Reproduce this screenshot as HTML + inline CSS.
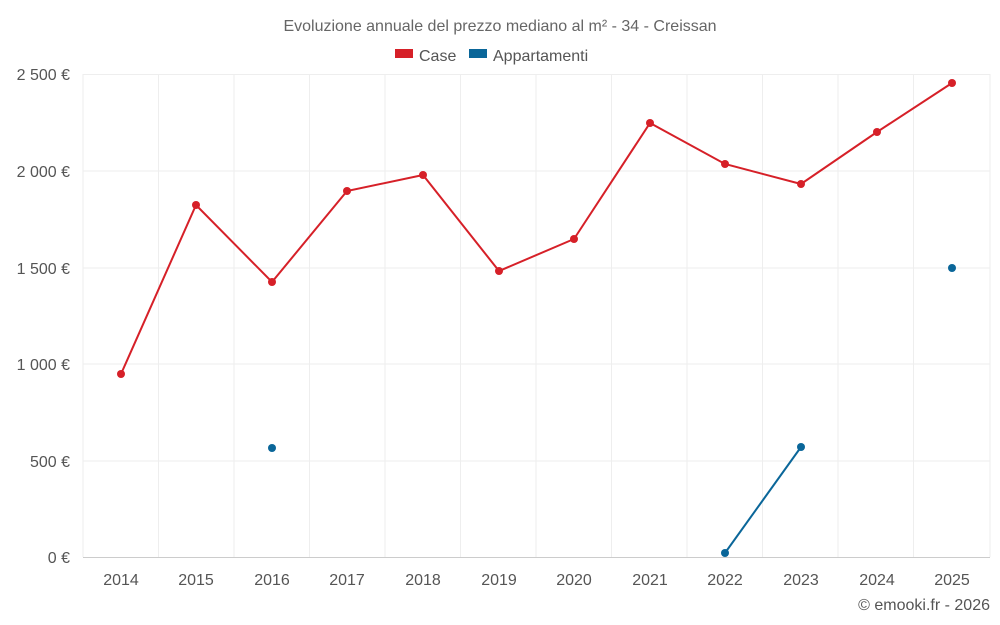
<!DOCTYPE html>
<html><head><meta charset="utf-8"><style>body{margin:0;background:#fff}svg{display:block;font-family:"Liberation Sans",sans-serif}</style></head><body>
<svg width="1000" height="625" xmlns="http://www.w3.org/2000/svg">
<text x="500" y="31" text-anchor="middle" font-size="16" fill="#666">Evoluzione annuale del prezzo mediano al m² - 34 - Creissan</text>
<rect x="395" y="49" width="18" height="9" fill="#d62028"/><text x="419" y="61" font-size="16" fill="#555">Case</text>
<rect x="469" y="49" width="18" height="9" fill="#0a6699"/><text x="493" y="61" font-size="16" fill="#555">Appartamenti</text>
<g stroke="#eee" stroke-width="1">
<line x1="83" y1="74.5" x2="990" y2="74.5"/><line x1="83" y1="171" x2="990" y2="171"/><line x1="83" y1="268" x2="990" y2="268"/><line x1="83" y1="364" x2="990" y2="364"/><line x1="83" y1="461" x2="990" y2="461"/>
<line x1="83" y1="74" x2="83" y2="557"/>
<line x1="158.5" y1="74" x2="158.5" y2="557"/><line x1="234" y1="74" x2="234" y2="557"/><line x1="309.5" y1="74" x2="309.5" y2="557"/><line x1="385" y1="74" x2="385" y2="557"/><line x1="460.5" y1="74" x2="460.5" y2="557"/><line x1="536" y1="74" x2="536" y2="557"/><line x1="611.5" y1="74" x2="611.5" y2="557"/><line x1="687" y1="74" x2="687" y2="557"/><line x1="762.5" y1="74" x2="762.5" y2="557"/><line x1="838" y1="74" x2="838" y2="557"/><line x1="913.5" y1="74" x2="913.5" y2="557"/><line x1="990" y1="74" x2="990" y2="557"/>
</g>
<line x1="83" y1="557.5" x2="990" y2="557.5" stroke="#ccc"/>
<g font-size="16" fill="#555" text-anchor="end">
<text x="70" y="80">2 500 €</text><text x="70" y="177">2 000 €</text><text x="70" y="274">1 500 €</text><text x="70" y="370">1 000 €</text><text x="70" y="467">500 €</text><text x="70" y="563">0 €</text>
</g>
<g font-size="16" fill="#555" text-anchor="middle">
<text x="121" y="585">2014</text><text x="196" y="585">2015</text><text x="272" y="585">2016</text><text x="347" y="585">2017</text><text x="423" y="585">2018</text><text x="499" y="585">2019</text><text x="574" y="585">2020</text><text x="650" y="585">2021</text><text x="725" y="585">2022</text><text x="801" y="585">2023</text><text x="877" y="585">2024</text><text x="952" y="585">2025</text>
</g>
<polyline fill="none" stroke="#d62028" stroke-width="2" points="121,374 196,205 272,282 347,191 423,175 499,271 574,239 650,123 725,164 801,184 877,132 952,83"/>
<g fill="#d62028"><circle cx="121" cy="374" r="4"/><circle cx="196" cy="205" r="4"/><circle cx="272" cy="282" r="4"/><circle cx="347" cy="191" r="4"/><circle cx="423" cy="175" r="4"/><circle cx="499" cy="271" r="4"/><circle cx="574" cy="239" r="4"/><circle cx="650" cy="123" r="4"/><circle cx="725" cy="164" r="4"/><circle cx="801" cy="184" r="4"/><circle cx="877" cy="132" r="4"/><circle cx="952" cy="83" r="4"/></g>
<line x1="725" y1="553" x2="801" y2="447" stroke="#0a6699" stroke-width="2"/>
<g fill="#0a6699"><circle cx="272" cy="448" r="4"/><circle cx="725" cy="553" r="4"/><circle cx="801" cy="447" r="4"/><circle cx="952" cy="268" r="4"/></g>
<text x="990" y="610" text-anchor="end" font-size="16" fill="#555">© emooki.fr - 2026</text>
</svg>
</body></html>
